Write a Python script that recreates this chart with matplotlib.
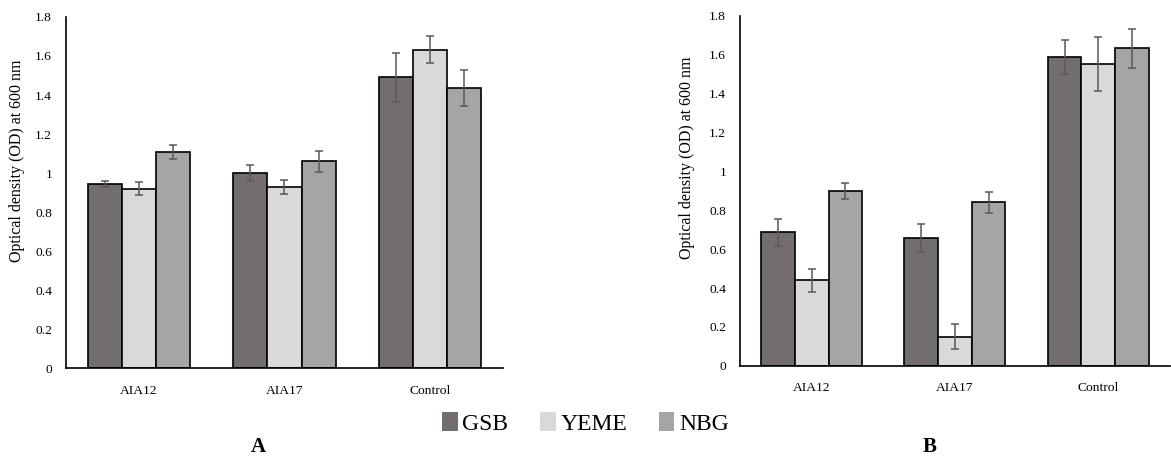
import numpy as np
import matplotlib
matplotlib.use('Agg')
import matplotlib.pyplot as plt
from matplotlib.patches import Patch

plt.rcParams['font.family'] = ['Liberation Serif', 'DejaVu Serif']

# ── Данные ──
groups = ['AIA12', 'AIA17', 'Control']
series = ['GSB', 'YEME', 'NBG']

a_gsb = [0.945, 1.0, 1.49]
a_yeme = [0.92, 0.928, 1.632]
a_nbg = [1.107, 1.06, 1.435]
a_gsb_err = [0.015, 0.04, 0.125]
a_yeme_err = [0.033, 0.035, 0.068]
a_nbg_err = [0.036, 0.053, 0.092]

b_gsb = [0.686, 0.656, 1.588]
b_yeme = [0.439, 0.149, 1.552]
b_nbg = [0.899, 0.84, 1.634]
b_gsb_err = [0.07, 0.072, 0.087]
b_yeme_err = [0.06, 0.065, 0.14]
b_nbg_err = [0.04, 0.055, 0.1]

colors = ['#736e6d', '#d9d9d9', '#a5a5a5']
ylabel = 'Optical density (OD) at 600 nm'


def draw_panel(ax, vals, errs):
    x = np.arange(len(groups))
    w = 0.235
    for i, (v, e) in enumerate(zip(vals, errs)):
        ax.bar(x + (i - 1) * w, v, w, color=colors[i], edgecolor='black', linewidth=1.2,
               yerr=e, capsize=3, error_kw=dict(ecolor='#595959', elinewidth=1.1, capthick=1.1),
               zorder=2)
    ax.set_xlim(-0.5, 2.5)
    ax.set_ylim(0, 1.8)
    ax.set_yticks(np.arange(0, 1.81, 0.2))
    ax.set_yticklabels(['0', '0.2', '0.4', '0.6', '0.8', '1', '1.2', '1.4', '1.6', '1.8'])
    ax.set_xticks(x)
    ax.set_xticklabels(groups)
    ax.tick_params(length=0, labelsize=9.7, pad=10)
    ax.tick_params(axis='x', pad=12)
    for s in ['top', 'right']:
        ax.spines[s].set_visible(False)
    for s in ['left', 'bottom']:
        ax.spines[s].set_linewidth(1.2)
    ax.set_ylabel(ylabel, fontsize=11.5)


fig = plt.figure(figsize=(11.71, 4.59), dpi=100)
ax1 = fig.add_axes([0.0564, 0.198, 0.373, 0.765])
ax2 = fig.add_axes([0.632, 0.203, 0.367, 0.7625])

draw_panel(ax1, [a_gsb, a_yeme, a_nbg], [a_gsb_err, a_yeme_err, a_nbg_err])
draw_panel(ax2, [b_gsb, b_yeme, b_nbg], [b_gsb_err, b_yeme_err, b_nbg_err])
ax1.yaxis.set_label_coords(-0.094, 0.59)
ax2.yaxis.set_label_coords(-0.104, 0.594)

handles = [Patch(facecolor=c, edgecolor='none') for c in colors]
fig.legend(handles, series, loc='center', bbox_to_anchor=(0.5, 0.078), ncol=3, frameon=False,
           fontsize=17, handlelength=0.65, handleheight=0.9, handletextpad=0.2, columnspacing=1.35)

fig.text(258 / 1171, 1 - 447 / 459, 'A', fontsize=15, fontweight='bold', ha='center', va='center')
fig.text(930 / 1171, 1 - 447 / 459, 'B', fontsize=15, fontweight='bold', ha='center', va='center')

plt.savefig('out.png', dpi=100)
